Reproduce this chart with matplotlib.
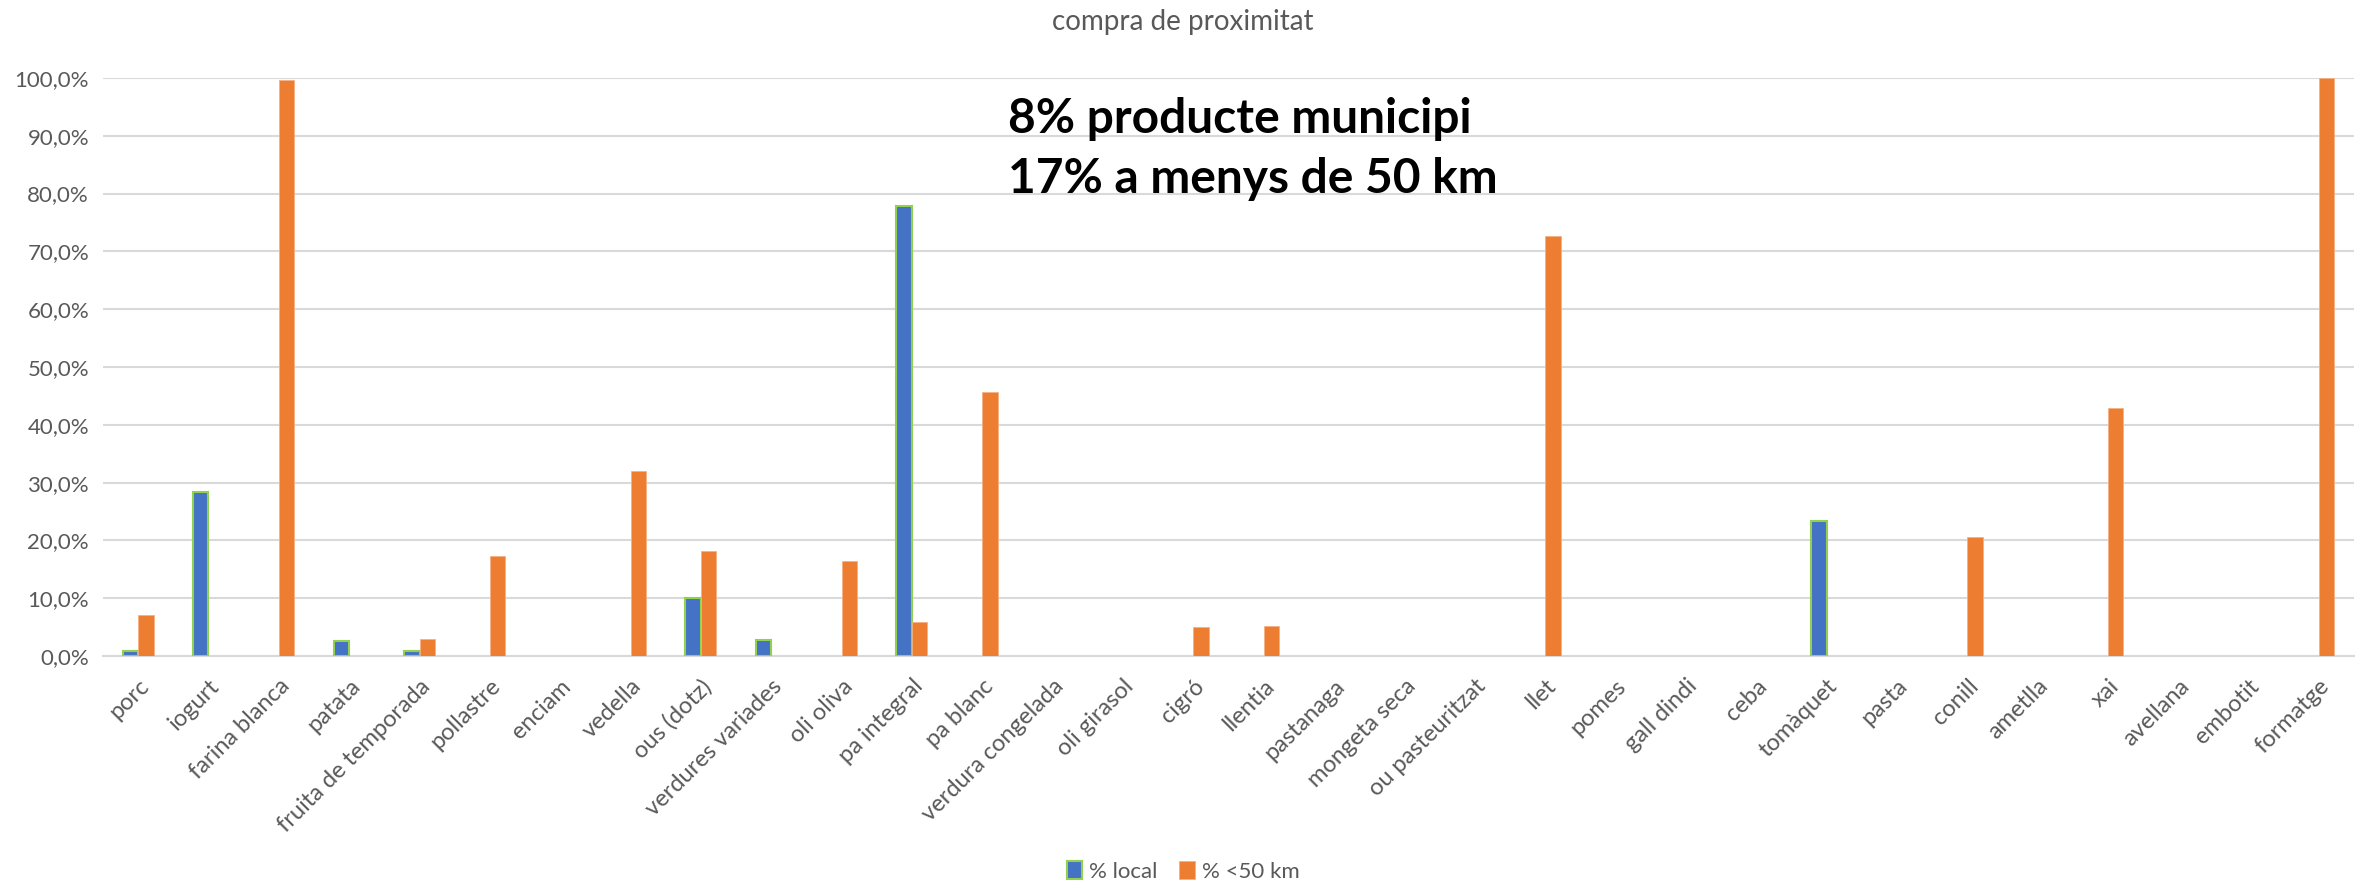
import numpy as np
import matplotlib
matplotlib.use("Agg")
import matplotlib.pyplot as plt
from matplotlib.ticker import FuncFormatter

plt.rcParams['font.family'] = ['Lato', 'DejaVu Sans']

# dades llegides del gràfic
productes = ['porc', 'iogurt', 'farina blanca', 'patata', 'fruita de temporada', 'pollastre',
             'enciam', 'vedella', 'ous (dotz)', 'verdures variades', 'oli oliva', 'pa integral',
             'pa blanc', 'verdura congelada', 'oli girasol', 'cigró', 'llentia', 'pastanaga',
             'mongeta seca', 'ou pasteuritzat', 'llet', 'pomes', 'gall dindi', 'ceba',
             'tomàquet', 'pasta', 'conill', 'ametlla', 'xai', 'avellana', 'embotit', 'formatge']
pct_local = [0.009, 0.284, 0, 0.026, 0.008, 0, 0, 0, 0.100, 0.028, 0, 0.779,
             0, 0, 0, 0, 0, 0, 0, 0, 0, 0, 0, 0, 0.233, 0, 0, 0, 0, 0, 0, 0]
pct_50km = [0.071, 0, 0.997, 0, 0.029, 0.173, 0, 0.320, 0.182, 0, 0.164, 0.059,
            0.457, 0, 0, 0.051, 0.052, 0, 0, 0, 0.727, 0, 0, 0, 0, 0, 0.206, 0,
            0.429, 0, 0, 1.0]
series = ['% local', '% <50 km']

gris = '#595959'
fig = plt.figure(figsize=(23.66, 8.82), dpi=100)
ax = fig.add_axes([0.0435, 0.2562, 0.9515, 0.6554])

x = np.arange(len(productes))
w = 0.22
# sense vora per a les barres a zero
vora_local = ['#92D050' if v > 0 else 'none' for v in pct_local]
vora_50 = ['#F4B183' if v > 0 else 'none' for v in pct_50km]
ax.bar(x - w / 2, pct_local, w, color='#4472C4', edgecolor=vora_local, linewidth=1.5,
       label=series[0], zorder=3)
ax.bar(x + w / 2, pct_50km, w, color='#ED7D31', edgecolor=vora_50, linewidth=0.6,
       label=series[1], zorder=3)

ax.set_xlim(-0.5, len(productes) - 0.5)
ax.set_ylim(0, 1.0)
ax.set_yticks(np.arange(0, 1.01, 0.1))
ax.yaxis.set_major_formatter(FuncFormatter(lambda v, p: f"{v * 100:.1f}%".replace('.', ',')))
ax.grid(axis='y', color='#D9D9D9', linewidth=1.5, zorder=0)
for s in ['top', 'right', 'left']:
    ax.spines[s].set_visible(False)
ax.spines['bottom'].set_color('#D9D9D9')
ax.spines['bottom'].set_linewidth(1.5)

ax.set_xticks(x)
ax.set_xticklabels(productes, rotation=45, ha='right', rotation_mode='anchor')
ax.tick_params(axis='y', length=0, labelsize=16, colors=gris, pad=10)
ax.tick_params(axis='x', length=0, labelsize=17, colors=gris, pad=14)

fig.text(0.5, 0.975, 'compra de proximitat', ha='center', va='center', fontsize=20, color=gris)
fig.text(0.426, 0.831, '8% producte municipi\n17% a menys de 50 km', ha='left', va='center',
         fontsize=34.5, fontweight='bold', color='black', linespacing=1.45)

leg = ax.legend(loc='center', bbox_to_anchor=(0.5, 0.012), bbox_transform=fig.transFigure,
                ncol=2, frameon=False, fontsize=16, labelcolor=gris, handlelength=0.7,
                handleheight=0.9, handletextpad=0.3, columnspacing=1.0)
leg.legend_handles[0].set_edgecolor('#92D050')

fig.savefig('out.png', dpi=100)
